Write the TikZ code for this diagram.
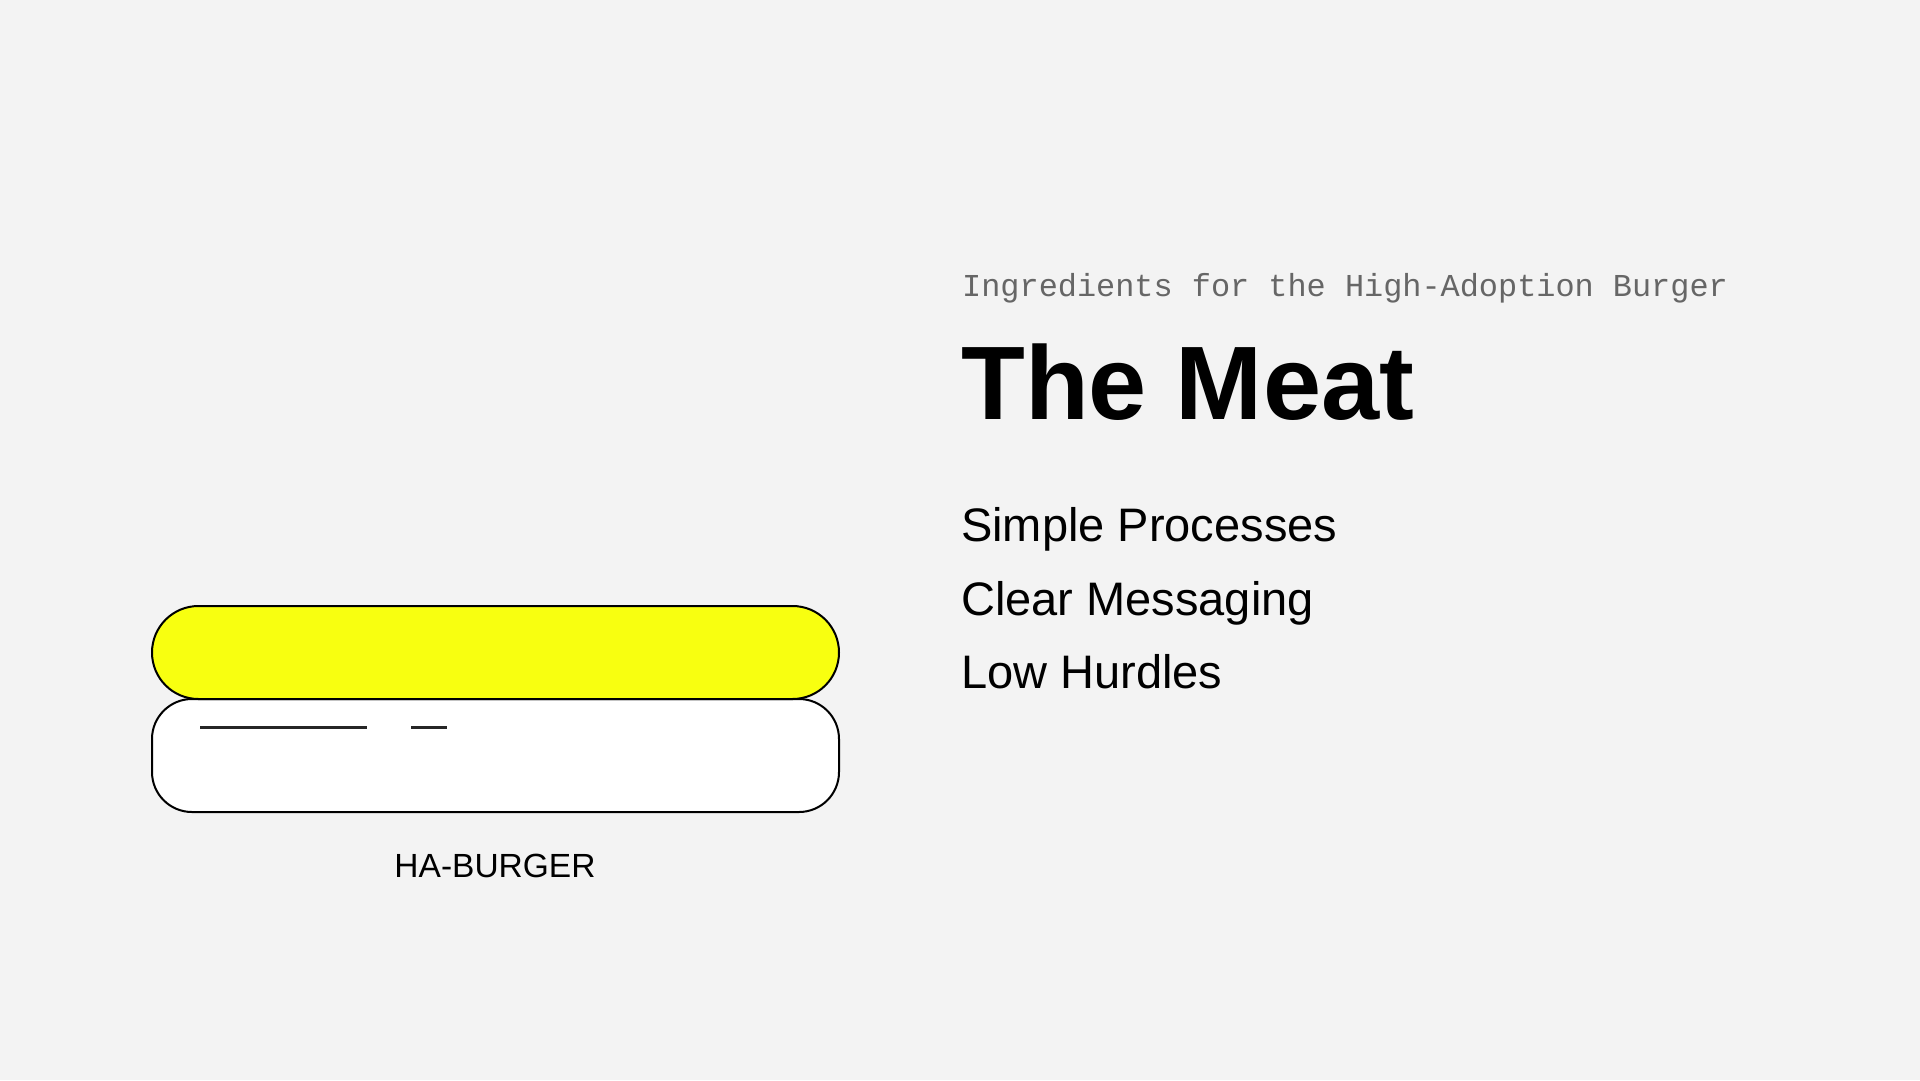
\documentclass[tikz,border=0pt]{standalone}
\usepackage{fontspec}
\setmainfont{Liberation Sans}
\newfontfamily\monofont{Liberation Mono}
\definecolor{bg}{HTML}{F3F3F3}
\definecolor{bunyellow}{HTML}{F8FF10}
\definecolor{subgray}{HTML}{666666}
\tikzset{
  bun/.style={draw=black, line width=2pt},
  sesame/.style={draw=black!85, line width=2.2pt},
  label/.style={inner sep=0pt, anchor=base west, text=black},
}
\begin{document}
\begin{tikzpicture}[x=1pt,y=-1pt]
\fill[bg] (0,0) rectangle (1920,1080);
\useasboundingbox (0,0) rectangle (1920,1080);
% bottom bun
\draw[bun, fill=white, rounded corners=40pt] (152,699) rectangle (839,812);
% top bun (yellow)
\draw[bun, fill=bunyellow, rounded corners=46.5pt] (152,606) rectangle (839,699);
% lines on white bun
\coordinate (l1a) at (200,727.5);
\coordinate (l1b) at (367,727.5);
\coordinate (l2a) at (411,727.5);
\coordinate (l2b) at (447,727.5);
\draw[sesame] (l1a) -- (l1b);
\draw[sesame] (l2a) -- (l2b);
% labels
\node[inner sep=0pt, anchor=base, font=\fontsize{33.5}{40}\selectfont] (burger) at (495,877) {HA-BURGER};
\node[label, text=subgray, font=\monofont\fontsize{31.9}{38}\selectfont] (sub) at (962,296) {Ingredients for the High-Adoption Burger};
\node[label, font=\bfseries\fontsize{104.5}{120}\selectfont] (title) at (961,419) {The Meat};
\node[label, font=\fontsize{47}{55}\selectfont] (i1) at (961,541) {Simple Processes};
\node[label, font=\fontsize{47}{55}\selectfont] (i2) at (961,615) {Clear Messaging};
\node[label, font=\fontsize{47}{55}\selectfont] (i3) at (961,688) {Low Hurdles};
\end{tikzpicture}
\end{document}
